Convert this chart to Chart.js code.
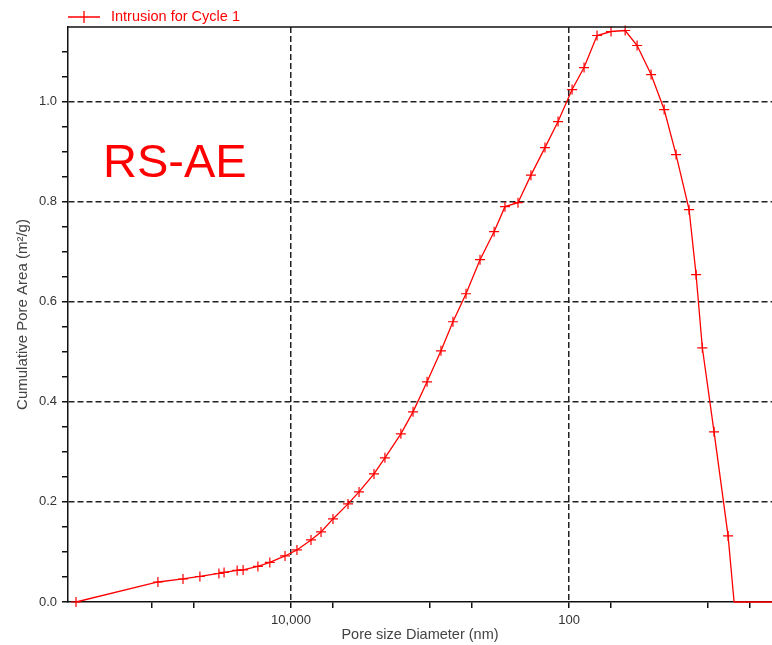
<!DOCTYPE html>
<html>
<head>
<meta charset="utf-8">
<script src="https://cdn.jsdelivr.net/npm/chart.js@4.4.0/dist/chart.umd.min.js"></script>
<style>
  body { margin: 0; background: #fff; }
  #wrap { position: relative; width: 772px; height: 645px; }
  #tag { position: absolute; left: 103px; top: 133px; font: 47px "Liberation Sans", Arial, sans-serif; color: #f00; }
</style>
</head>
<body>
<div id="wrap">
  <canvas id="c" width="772" height="645"></canvas>
  <div id="tag">RS-AE</div>
</div>
<script>
// pore diameter (nm) and cumulative pore area (m²/g)
const poreDiameter = [352000, 90600, 59800, 45200, 33000, 30300, 24400, 22100, 17300, 14200,
  11040, 9060, 7180, 6080, 4990, 3890, 3240, 2530, 2110, 1620,
  1325, 1050, 834, 684, 551, 437, 346, 289, 233, 188,
  149, 120, 95.1, 78.0, 62.9, 49.9, 39.5, 32.4, 25.7, 20.7,
  17.0, 13.7, 12.2, 11.0, 9.06, 7.18, 6.50, 2.2];
const cumulativeArea = [0, 0.040, 0.046, 0.051, 0.057, 0.059, 0.063, 0.064, 0.071, 0.079,
  0.092, 0.104, 0.124, 0.140, 0.166, 0.196, 0.220, 0.256, 0.288, 0.336,
  0.380, 0.440, 0.502, 0.560, 0.616, 0.684, 0.740, 0.790, 0.798, 0.853,
  0.908, 0.960, 1.024, 1.068, 1.132, 1.140, 1.142, 1.112, 1.054, 0.984,
  0.894, 0.784, 0.654, 0.508, 0.340, 0.132, 0, 0];

const seriesName = 'Intrusion for Cycle 1';
const xTickValues = [5, 10, 50, 100, 500, 1000, 5000, 10000, 50000, 100000];
const xLabelled = [100, 10000];
const xRange = [3.47, 401700];
const yRange = [0, 1.149];

const FONT = '"Liberation Sans", Arial, sans-serif';

const isMajorY = v => v > 1e-9 && Math.abs(v / 0.2 - Math.round(v / 0.2)) < 1e-6;

// legend sample + top frame line
const extras = {
  id: 'extras',
  afterDraw(chart) {
    const { ctx, chartArea } = chart;
    ctx.save();
    ctx.strokeStyle = '#111';
    ctx.lineWidth = 1.5;
    ctx.beginPath();
    ctx.moveTo(chartArea.left, chartArea.top);
    ctx.lineTo(chartArea.right, chartArea.top);
    ctx.stroke();

    const x0 = chartArea.left, y0 = 17;
    ctx.strokeStyle = '#f00';
    ctx.lineWidth = 1.3;
    ctx.beginPath();
    ctx.moveTo(x0, y0); ctx.lineTo(x0 + 32, y0);
    ctx.moveTo(x0 + 16, y0 - 6); ctx.lineTo(x0 + 16, y0 + 6);
    ctx.stroke();
    ctx.fillStyle = '#f00';
    ctx.font = '14.5px ' + FONT;
    ctx.textBaseline = 'middle';
    ctx.fillText(seriesName, x0 + 43, y0);
    ctx.restore();
  }
};

const noPad = s => { s.paddingLeft = 0; s.paddingRight = 0; s.paddingTop = 0; s.paddingBottom = 0; };

new Chart(document.getElementById('c'), {
  type: 'line',
  data: {
    datasets: [{
      label: seriesName,
      data: poreDiameter.map((d, i) => ({ x: d, y: cumulativeArea[i] })),
      borderColor: '#f00',
      borderWidth: 1.3,
      pointStyle: 'cross',
      pointRadius: ctx => ctx.dataIndex >= poreDiameter.length - 2 ? 0 : 5,
      pointBorderColor: '#f00',
      pointBorderWidth: 1.2,
      tension: 0,
      fill: false,
      clip: false
    }]
  },
  options: {
    responsive: false,
    animation: false,
    devicePixelRatio: 1,
    layout: { autoPadding: false, padding: { top: 27, left: 0, right: 0, bottom: 0 } },
    plugins: { legend: { display: false }, tooltip: { enabled: false } },
    scales: {
      x: {
        type: 'logarithmic',
        reverse: true,
        min: xRange[0],
        max: xRange[1],
        afterBuildTicks: s => { s.ticks = xTickValues.map(v => ({ value: v })); },
        afterFit: s => { s.height = 43; noPad(s); },
        ticks: {
          autoSkip: false,
          maxRotation: 0,
          padding: 5,
          color: '#333',
          font: { family: FONT, size: 13 },
          callback: v => xLabelled.includes(v) ? v.toLocaleString('en-US') : ''
        },
        grid: {
          color: ctx => ctx.tick && xLabelled.includes(ctx.tick.value) ? '#222' : 'transparent',
          lineWidth: 1.5,
          tickColor: '#111',
          tickLength: 6
        },
        border: { display: true, color: '#111', width: 1.5, dash: [6, 3] },
        title: {
          display: true,
          text: 'Pore size Diameter (nm)',
          color: '#444',
          font: { family: FONT, size: 14.5 },
          padding: { top: 0, bottom: 1 }
        }
      },
      y: {
        min: yRange[0],
        max: yRange[1],
        afterFit: s => { s.width = 68; noPad(s); },
        ticks: {
          stepSize: 0.05,
          includeBounds: false,
          autoSkip: false,
          padding: 5,
          color: '#333',
          font: { family: FONT, size: 13 },
          callback: v => (Math.abs(v) < 1e-9 || isMajorY(v)) ? v.toFixed(1) : ''
        },
        grid: {
          color: ctx => ctx.tick && isMajorY(ctx.tick.value) ? '#222' : 'transparent',
          lineWidth: 1.5,
          tickColor: '#111',
          tickLength: 6
        },
        border: { display: true, color: '#111', width: 1.5, dash: [6, 3] },
        title: {
          display: true,
          text: 'Cumulative Pore Area (m²/g)',
          color: '#444',
          font: { family: FONT, size: 15 },
          padding: { top: 14, bottom: 0 }
        }
      }
    }
  },
  plugins: [extras]
});
</script>
</body>
</html>
